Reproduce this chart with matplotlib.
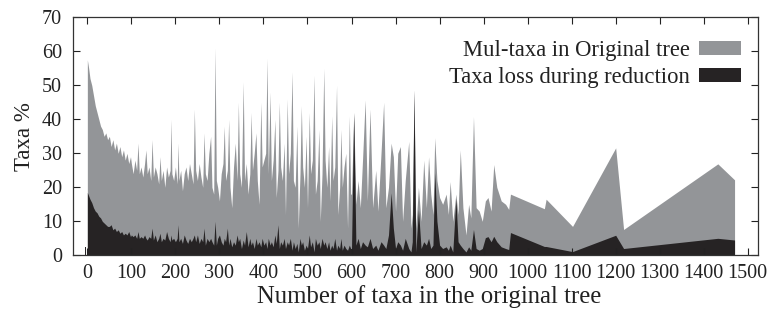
import matplotlib
matplotlib.use("Agg")
import matplotlib.pyplot as plt

plt.rcParams['font.family'] = ['Liberation Serif', 'DejaVu Serif']

# ---- data ----
dense_x = [0, 3, 6, 10, 14, 18, 22, 26, 30, 34, 38, 42, 46, 50, 54, 58, 62, 66, 70, 74,
           78, 82, 86, 90, 94, 98,
           100, 104, 108, 112, 115, 118, 122, 126, 130, 133, 136, 140, 144, 147, 150,
           154, 158, 162, 165, 168, 172, 176, 180, 184, 188, 190, 192, 196, 200, 204,
           206, 208, 212, 216, 220, 224, 228, 232, 236, 240, 243, 246, 250, 254, 258,
           262, 265, 268, 272, 276, 280, 283, 287, 290, 293, 296,
           300, 304, 308, 311, 314, 318, 321, 324, 328, 332, 336, 340, 343, 346, 350,
           354, 357, 361, 365, 369, 372, 375, 379, 383, 386, 390, 394, 397, 401, 405,
           408, 411, 415, 418, 422, 426, 429, 433, 436, 439, 443, 447, 450, 454, 457,
           461, 465, 468, 472, 476, 479, 483, 486, 489, 493, 497, 500, 504, 507, 511,
           515, 518, 522, 526, 529, 533, 537, 540, 544, 548, 551, 555, 558, 562, 566,
           569, 573, 576, 579, 583, 587, 591, 595, 598, 600]
dense_mul = [57.5, 55, 52, 50, 47, 44, 42, 40, 38, 37, 35, 36, 34, 35, 32, 34, 31, 33, 30, 32,
             29, 31, 28, 30, 27, 29,
             27, 24, 28, 25, 33, 24, 26, 23, 27, 31, 24, 26, 22, 34, 23,
             26, 24, 21, 29, 22, 25, 20, 26, 23, 25, 40, 24, 22, 26, 21,
             33, 22, 25, 19, 24, 26, 22, 27, 24, 21, 43, 25, 22, 27, 23,
             20, 36, 24, 22, 30, 35, 20, 18, 61, 22, 20,
             16, 24, 27, 38, 22, 25, 40, 20, 14, 26, 33, 22, 45, 24, 20,
             51, 22, 27, 18, 24, 42, 25, 30, 36, 22, 15, 45, 26, 28, 30,
             58, 24, 48, 22, 28, 40, 17, 25, 45, 26, 22, 33, 12, 46, 24,
             30, 54, 22, 20, 38, 8, 24, 44, 26, 20, 35, 14, 42, 24, 28,
             53, 18, 22, 37, 10, 24, 55, 28, 20, 32, 16, 41, 22, 26, 50,
             12, 20, 37, 20, 26, 30, 8, 41, 18, 18]
dense_loss = [18.5, 17.5, 16.5, 15.5, 14, 13, 12.5, 11.5, 11, 10, 9.5, 9, 8.5, 8.5, 9, 7.5, 8, 7, 7.5, 6.5,
              7, 6, 6.5, 6, 7, 5.5,
              6, 5.5, 6, 5, 7, 5, 5.5, 5, 6, 5, 4.5, 5.5, 5, 8, 4.5,
              6, 4, 5, 6.5, 4, 5, 4.5, 7, 5, 4, 6, 4.5, 5, 4, 5,
              9, 4, 5, 3.5, 6, 4.5, 3.5, 5, 4, 5, 6, 4, 6, 3.5, 5,
              4, 8, 3, 5, 4, 5, 4, 3, 10, 3, 5,
              6, 4, 3, 5, 4, 8, 3, 5, 2.5, 4, 3, 6, 4, 5, 2,
              4.5, 3, 7, 2.5, 5, 3, 4, 2, 5, 3, 4, 2.5, 5, 3, 4,
              2, 5, 3, 4, 2.5, 6, 3.5, 9, 2, 4, 3, 5, 2, 4, 3,
              5, 1.5, 4, 2, 3.5, 1, 5, 3, 4, 1.5, 3, 2, 6, 2.5, 4,
              1, 5, 3, 4, 2, 5, 3, 4, 2, 4, 1.5, 3, 2, 5, 1.5,
              3, 2, 5, 1.5, 3, 2, 1.5, 3, 2, 2]

sparse_x = [605, 610, 615, 620, 625, 631, 636, 642, 648, 655,
            660, 667, 673, 678, 684, 690, 695, 700, 705, 711,
            716, 722, 730, 735, 738, 742, 746, 752, 758, 764,
            770, 775, 780, 785, 789, 794, 800, 807, 815, 820,
            824, 830, 837, 842, 847, 853, 860, 866, 871, 877,
            883, 890, 897, 904, 910, 917, 923, 930, 940, 950,
            957, 961, 1038, 1042, 1102, 1200, 1218, 1432, 1470]
sparse_mul = [42, 15, 22, 14, 28, 45.7, 16, 43, 14, 25,
              13, 30, 45, 14, 20, 33, 29, 13, 30, 32,
              10, 22, 33.5, 8, 12, 48.6, 8, 20, 10, 28,
              14, 29, 18, 12, 34.6, 22, 17, 15, 18, 12,
              21.7, 10, 18, 12, 31, 14, 6, 15, 11, 40.8,
              14, 13, 10, 16, 17, 13, 26.7, 20, 16, 15,
              13.5, 18, 13.7, 16.5, 8.5, 31.6, 7.6, 26.9, 22.2]
sparse_loss = [42, 3, 5, 2, 4, 3, 2.5, 5, 2, 3,
               1.5, 4, 3, 2, 6, 18.4, 8, 2, 4, 3,
               1.5, 5, 2, 1, 4, 48.6, 1, 13.5, 2, 4,
               3, 5, 2, 3, 24.3, 10, 3, 2, 2.5, 1.5,
               3, 1, 16.7, 4, 3, 2, 1, 2.5, 1.5, 7.6,
               2, 1.5, 2, 5.2, 5.5, 4, 5.6, 4, 2.5, 2,
               1.7, 6.7, 2.6, 2.6, 1.1, 5.9, 2, 5, 4.5]

stub_x = [-6, -4]
stub_y = [2.5, 2.5]

x_vals = dense_x + sparse_x
mul_vals = dense_mul + sparse_mul
loss_vals = dense_loss + sparse_loss

xticks = list(range(0, 1501, 100))
yticks = list(range(0, 71, 10))

gray = '#939598'
dark = '#262324'

fig = plt.figure(figsize=(7.72, 3.13), dpi=100)
ax = fig.add_axes([0.0949, 0.1843, 0.9823 - 0.0949, 0.9447 - 0.1843])

ax.fill_between(x_vals, 0, mul_vals, color=gray, lw=0, label='Mul-taxa in Original tree')
ax.fill_between(x_vals, 0, loss_vals, color=dark, lw=0, label='Taxa loss during reduction')
ax.fill_between(stub_x, 0, stub_y, color=dark, lw=0)

ax.set_xlim(-32, 1524)
ax.set_ylim(0, 70)
ax.set_xticks(xticks)
ax.set_yticks(yticks)
ax.tick_params(direction='in', length=5, width=0.8, top=True, right=True,
               labelsize=14.5, colors='#222222')
ax.tick_params(axis='x', pad=6)
ax.tick_params(axis='y', pad=8)
for s in ax.spines.values():
    s.set_linewidth(0.9)
    s.set_color('#333333')

ax.set_xlabel('Number of taxa in the original tree', fontsize=17.8, color='#222222')
ax.xaxis.set_label_coords(0.519, -0.125)
ax.set_ylabel('Taxa %', fontsize=16.5, labelpad=5, color='#222222')

leg = ax.legend(loc='upper right', bbox_to_anchor=(0.9747, 0.905), frameon=False,
                markerfirst=False, fontsize=16.3, handlelength=1.86, handleheight=0.58,
                handletextpad=0.4, labelspacing=0.25, borderpad=0, borderaxespad=0)
for t in leg.get_texts():
    t.set_color('#222222')

fig.savefig('out.png', dpi=100)
